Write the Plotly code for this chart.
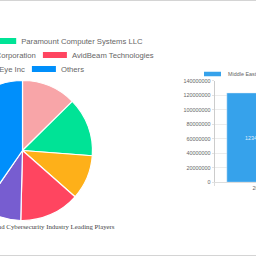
import plotly.graph_objects as go

# ---------------- data ----------------
players = [
    "Cisco Systems",
    "Paramount Computer Systems LLC",
    "Northrop Grumman Corporation",
    "AvidBeam Technologies",
    "FireEye Inc",
    "Others",
]
shares = [12.6, 13.6, 10.3, 13.9, 9.2, 40.4]
slice_colors = ["#F8A5A8", "#00E396", "#FEB019", "#FF4560", "#775DD0", "#008FFB"]

years = ["2023"]
market_value = [123400000]
series_name = "Middle East & Africa Video Surveillance and Cybersecurity Market"
y_ticks = [0, 20000000, 40000000, 60000000, 80000000, 100000000, 120000000, 140000000]
pie_title = "Middle East & Africa Video Surveillance and Cybersecurity Industry Leading Players"

# ---------------- layout geometry (figure px) ----------------
W, H, SHIFT = 500, 256, 100
pie_cx, pie_cy, pie_r = 22.5 + SHIFT, 150.5, 70
LEG_FONT = 7.7


def px_x(v):
    return v / W


def px_y(v_from_top):
    return 1 - v_from_top / H


fig = go.Figure()

fig.add_trace(go.Pie(
    labels=players,
    values=shares,
    sort=False,
    direction="clockwise",
    rotation=0,
    marker=dict(colors=slice_colors, line=dict(color="white", width=1.2)),
    textinfo="none",
    hoverinfo="label+percent",
    showlegend=False,
    domain=dict(x=[px_x(pie_cx - pie_r), px_x(pie_cx + pie_r)],
                y=[px_y(pie_cy + pie_r), px_y(pie_cy - pie_r)]),
))

# legend-only entries for the pie, split into rows (Chart.js style boxes)
rows = [(0, 1), (2, 3), (4, 5)]
legend_names = ["legend", "legend2", "legend3"]
first_entry_width = [41.9, 99.6, 29.9]
row_right = [148.3, 159.3, 90.0]   # visible px of each row's right edge
row_y = [41, 55, 69]
for k, (lname, row) in enumerate(zip(legend_names, rows)):
    for j, i in enumerate(row):
        fig.add_trace(go.Scatter(
            x=[None], y=[None], mode="lines",
            line=dict(color=slice_colors[i], width=6, dash="0px,6px,24px,200px"),
            name=players[i], legend=lname, hoverinfo="skip",
            legendwidth=first_entry_width[k] if j == 0 else None,
        ))

fig.add_trace(go.Bar(
    x=years,
    y=market_value,
    width=0.72,
    marker=dict(color="rgb(54,162,235)"),
    text=[str(v) for v in market_value],
    textposition="inside",
    insidetextanchor="middle",
    textangle=0,
    textfont=dict(size=5.4, color="rgba(255,255,255,0.85)"),
    showlegend=False,
    name=series_name,
))
fig.add_trace(go.Scatter(
    x=[None], y=[None], mode="lines",
    line=dict(color="rgb(54,162,235)", width=4.5, dash="0px,11px,17px,200px"),
    name=series_name, legend="legend4", hoverinfo="skip",
))

leg_common = dict(orientation="h", xanchor="right", yanchor="middle",
                  bgcolor="rgba(0,0,0,0)", borderwidth=0,
                  font=dict(size=LEG_FONT, color="#666", family="Liberation Sans"),
                  tracegroupgap=0, itemclick=False, itemdoubleclick=False)

fig.update_layout(
    width=W, height=H,
    margin=dict(l=0, r=0, t=0, b=0, autoexpand=False),
    paper_bgcolor="white", plot_bgcolor="white",
    font=dict(family="Liberation Sans", color="#666"),
    legend=dict(x=px_x(row_right[0] + SHIFT), y=px_y(row_y[0]), **leg_common),
    legend2=dict(x=px_x(row_right[1] + SHIFT), y=px_y(row_y[1]), **leg_common),
    legend3=dict(x=px_x(row_right[2] + SHIFT), y=px_y(row_y[2]), **leg_common),
    legend4=dict(x=px_x(188 + SHIFT), y=px_y(74), orientation="h",
                 xanchor="left", yanchor="middle", bgcolor="rgba(0,0,0,0)",
                 borderwidth=0,
                 font=dict(size=5.4, color="#666", family="Liberation Sans"),
                 itemclick=False, itemdoubleclick=False),
    xaxis=dict(domain=[px_x(214.5 + SHIFT), px_x(302.5 + SHIFT)],
               type="category", range=[-0.5, 0.5],
               showgrid=False, showline=True, linecolor="#dddddd", linewidth=1,
               ticks="outside", tickson="boundaries", ticklen=3, tickcolor="#dddddd",
               tickfont=dict(size=5.4, color="#666"), fixedrange=True),
    yaxis=dict(domain=[px_y(182.2), px_y(80.9)],
               range=[0, 140000000], tickvals=y_ticks, tickformat="d",
               showgrid=True, gridcolor="#ececec", gridwidth=1,
               showline=True, linecolor="#cccccc", linewidth=1,
               ticks="outside", ticklen=2, tickcolor="#e2e2e2",
               zeroline=False,
               tickfont=dict(size=5.4, color="#666"), fixedrange=True),
    shapes=[
        dict(type="line", xref="paper", yref="paper", x0=0, x1=1,
             y0=px_y(0.5), y1=px_y(0.5), line=dict(color="#d4d4d4", width=1)),
        dict(type="line", xref="paper", yref="paper", x0=0, x1=1,
             y0=px_y(255.5), y1=px_y(255.5), line=dict(color="#d4d4d4", width=1)),
    ],
    annotations=[
        dict(text=pie_title, xref="paper", yref="paper",
             x=px_x(116.5 + SHIFT), y=px_y(226.5), xanchor="right", yanchor="middle",
             showarrow=False,
             font=dict(family="Liberation Serif", size=6.8, color="#444")),
    ],
)

post = (
    "var gd=document.getElementById('{plot_id}');"
    "document.documentElement.style.overflow='hidden';"
    "document.body.style.overflow='hidden';"
    "document.body.style.margin='0';"
    "gd.style.position='absolute';"
    "gd.style.top='0px';"
    "gd.style.left='-" + str(SHIFT) + "px';"
)

fig.write_html("out.html", config={"displayModeBar": False}, post_script=post)
